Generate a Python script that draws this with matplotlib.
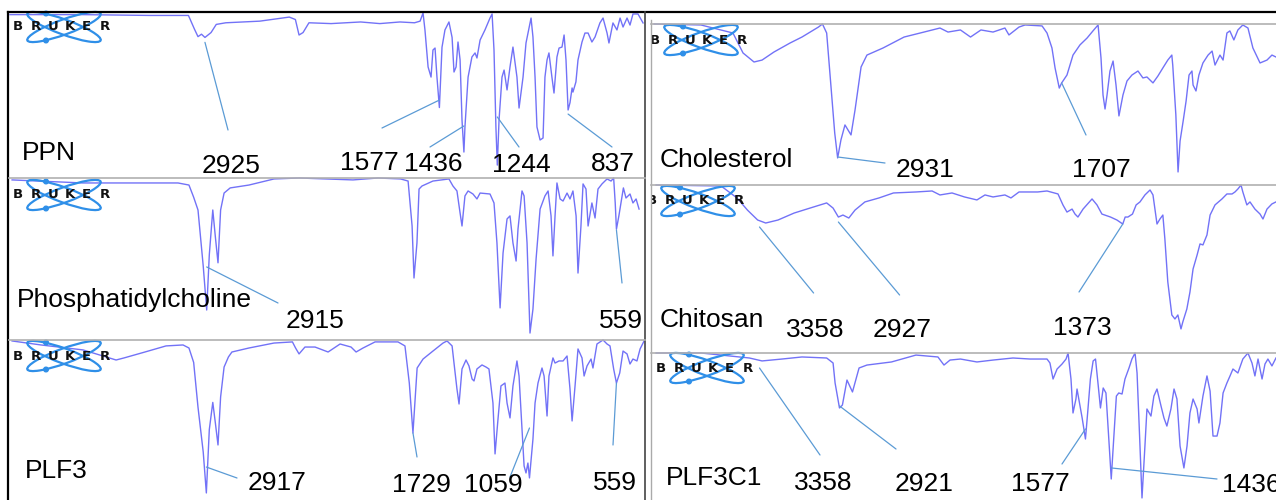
import matplotlib
matplotlib.use("Agg")
import matplotlib.pyplot as plt
import matplotlib.transforms as mtransforms
from matplotlib.lines import Line2D
from matplotlib.patches import Ellipse, Circle

W, H = 1276, 500

# FTIR spectra as (wavenumber cm-1, transmittance %) pairs
ppn = [(4046, 99), (3630, 99), (3240, 98.5), (3020, 98.5), (2985, 90), (2965, 85.5), (2945, 87),
       (2925, 85), (2890, 88), (2860, 93), (2805, 94), (2610, 95), (2440, 97.5), (2405, 96),
       (2384, 86.5), (2361, 88), (2327, 94), (2200, 93.5), (2030, 94.5), (1920, 93.5), (1804, 94.5),
       (1720, 94), (1688, 95), (1671, 100), (1660, 89.6), (1642, 66.9), (1625, 60.7), (1614, 77.3),
       (1602, 78.5), (1591, 60.7), (1577, 42), (1562, 79), (1545, 89.6), (1522, 94.5), (1504, 85),
       (1493, 63.8), (1481, 66.9), (1470, 82.2), (1458, 71.2), (1447, 34.4), (1436, 14.7),
       (1430, 30.1), (1412, 60.7), (1390, 73), (1372, 75.5), (1361, 72.4), (1343, 83.4),
       (1315, 89.6), (1286, 96.9), (1274, 99.4), (1263, 77.3), (1252, 30), (1244, 6.7), (1234, 34.4),
       (1217, 60.7), (1205, 65), (1188, 52.8), (1171, 66.9), (1154, 79.1), (1131, 60.7), (1119, 41.7),
       (1096, 60.7), (1079, 81.6), (1050, 96.9), (1039, 85.3), (1027, 60.7), (1016, 30.1),
       (998, 22.1), (981, 23.3), (970, 60.7), (958, 71.2), (947, 75.5), (930, 60.7), (918, 50.9),
       (901, 73), (889, 78.5), (872, 79.1), (860, 86.5), (849, 71.2), (837, 40.5), (826, 45),
       (814, 54), (809, 51.5), (792, 57.7), (780, 71.2), (757, 82.2), (740, 87.7), (722, 87.7),
       (700, 82.2), (682, 85.3), (654, 93.9), (636, 96.9), (613, 87.7), (602, 81.6), (579, 93.9),
       (556, 89.6), (538, 96.9), (521, 91.4), (498, 96.9), (481, 92.6), (464, 99.4), (435, 99.4),
       (406, 93.9)]

phosphatidylcholine = [
    (4034, 98.8), (3626, 96.9), (3270, 96.9), (3080, 96.9), (3017, 95.6), (2990, 88), (2965, 80),
    (2935, 45), (2915, 17.5), (2900, 52), (2880, 80), (2865, 63), (2850, 47), (2835, 80),
    (2815, 90.6), (2780, 93.8), (2672, 95.6), (2528, 99.4), (2384, 100), (2074, 98.8), (1930, 100),
    (1800, 99.4), (1757, 98.1), (1734, 70), (1723, 37.5), (1706, 59.4), (1694, 93.1), (1677, 95),
    (1614, 98.1), (1522, 99.4), (1499, 95), (1476, 91.9), (1458, 78.1), (1447, 70), (1430, 88.8),
    (1412, 91.9), (1384, 90), (1361, 86.9), (1343, 90.6), (1286, 90), (1263, 84.4), (1246, 59.4),
    (1228, 18.8), (1211, 53.1), (1188, 74.4), (1171, 76.3), (1154, 59.4), (1136, 48.1),
    (1125, 68.1), (1102, 91.9), (1090, 88.8), (1073, 59.4), (1056, 3.1), (1039, 18.1),
    (1021, 49.4), (998, 80.6), (970, 88.8), (952, 91.9), (935, 76.3), (924, 51.3), (912, 76.3),
    (901, 96.9), (883, 86.9), (866, 85.6), (843, 90.6), (826, 86.9), (809, 91.9), (791, 76.3),
    (780, 40.6), (763, 70), (751, 96.3), (734, 93.1), (722, 70), (700, 84.4), (682, 75),
    (665, 93.1), (642, 96.3), (613, 99.4), (590, 98.1), (575, 100), (566, 84.4), (559, 68),
    (545, 76.3), (519, 93.8), (504, 87.5), (481, 90), (464, 84.4), (446, 86.9), (429, 80.6)]

plf3 = [(4034, 99.4), (3868, 96.9), (3626, 93.8), (3436, 87.5), (3390, 88.8), (3270, 92.5),
        (3149, 96.3), (3051, 96.9), (3017, 95), (2990, 86), (2965, 58), (2935, 30), (2917, 4.4),
        (2900, 44), (2880, 61), (2865, 48), (2850, 34.4), (2835, 64.4), (2815, 83.1), (2790, 89.4),
        (2770, 92.5), (2672, 95), (2528, 98.1), (2422, 98.8), (2404, 95), (2384, 91.3), (2350, 95.6),
        (2292, 95.6), (2217, 92.5), (2148, 97.5), (2085, 95.6), (2056, 92.5), (2016, 95),
        (1947, 98.8), (1815, 98.8), (1775, 96.3), (1750, 73.1), (1729, 41.9), (1718, 60.6),
        (1705, 82.5), (1671, 88.1), (1614, 93.1), (1556, 98.1), (1533, 99.4), (1504, 96.3),
        (1493, 85.6), (1476, 69.4), (1464, 60), (1447, 81.9), (1424, 87.5), (1407, 83.8),
        (1389, 75.6), (1378, 74.4), (1361, 81.9), (1332, 84.4), (1309, 83.1), (1292, 81.9),
        (1269, 60.6), (1257, 28.8), (1240, 50.6), (1223, 71.3), (1200, 73.1), (1188, 60.6),
        (1171, 51.3), (1154, 71.3), (1131, 86.9), (1119, 77.5), (1102, 44.4), (1090, 21.3),
        (1079, 16.9), (1068, 23.1), (1059, 13.8), (1039, 38.1), (1027, 60.6), (1010, 73.1),
        (987, 82.5), (975, 77.5), (958, 52.5), (947, 77.5), (924, 88.8), (912, 85.6), (889, 86.9),
        (866, 86.9), (843, 90), (826, 69.4), (814, 49.4), (797, 71.3), (780, 94.4), (757, 88.8),
        (745, 77.5), (728, 83.8), (705, 88.1), (694, 82.5), (671, 97.5), (653, 98.8), (636, 100),
        (613, 97.5), (596, 96.3), (575, 81.9), (559, 73.1), (540, 79.4), (521, 93.1), (498, 91.3),
        (481, 85), (464, 88.1), (441, 86.9), (423, 94.4), (400, 99.4)]

cholesterol = [
    (3934, 100), (3678, 99.4), (3503, 94.4), (3448, 82), (3388, 76.4), (3344, 77.6), (3279, 82.6),
    (3191, 88.2), (3126, 91.9), (3036, 98.1), (3014, 100), (2991, 94.4), (2969, 63.4), (2947, 32.3),
    (2931, 16.8), (2913, 28), (2891, 37.3), (2858, 31.1), (2836, 46.6), (2803, 73.3), (2771, 80.7),
    (2683, 85.1), (2568, 91.9), (2459, 95), (2372, 97.5), (2328, 95), (2260, 96.3), (2205, 91.9),
    (2148, 96.3), (2082, 95), (2017, 97.5), (1995, 93.2), (1940, 98.1), (1907, 99.4), (1814, 98.8),
    (1787, 94.4), (1760, 85.1), (1743, 72.7), (1720, 60.2), (1707, 63.4), (1678, 68.3),
    (1645, 80.7), (1607, 87), (1568, 91.3), (1536, 95.7), (1508, 99.4), (1492, 78.9), (1481, 55.9),
    (1470, 47.2), (1459, 55.9), (1443, 70.8), (1426, 77), (1410, 62.1), (1394, 42.9), (1372, 55.9),
    (1350, 64.6), (1323, 68.3), (1290, 70.8), (1263, 66.5), (1241, 67.1), (1208, 63.4),
    (1181, 67.7), (1154, 72.7), (1127, 77.6), (1105, 80.7), (1100, 74.5), (1083, 43.5), (1071, 8.1),
    (1060, 27.3), (1043, 39.8), (1027, 52.2), (1011, 68.3), (995, 70.8), (989, 62.1), (973, 58.4),
    (957, 68.3), (935, 75.8), (907, 80.7), (885, 83.2), (869, 74.5), (842, 80.7), (825, 77.6),
    (804, 94.4), (788, 95.7), (766, 90.1), (744, 96.3), (717, 99.4), (689, 97.5), (662, 85.1),
    (623, 75.8), (585, 77.6), (558, 80.7), (536, 79.5)]

chitosan = [
    (3923, 100), (3568, 99.4), (3481, 92.2), (3424, 84.9), (3368, 78.9), (3324, 77.1), (3257, 78.9),
    (3169, 83.1), (3082, 86.1), (2991, 89.2), (2956, 86.1), (2927, 80.7), (2902, 81.9), (2870, 80.1),
    (2836, 84.9), (2782, 89.8), (2705, 92.2), (2626, 95.2), (2503, 95.8), (2415, 96.4), (2372, 94),
    (2306, 95.2), (2238, 92.8), (2170, 91), (2126, 94), (2082, 92.8), (2017, 94), (1984, 92.2),
    (1940, 95.8), (1838, 95.8), (1787, 96.4), (1727, 94.6), (1700, 88), (1678, 83.7), (1650, 85.5),
    (1634, 82.5), (1618, 80.7), (1590, 85.5), (1541, 91.6), (1514, 88), (1487, 82.5), (1440, 80.7),
    (1405, 78.9), (1373, 76.5), (1360, 80.7), (1345, 80.7), (1320, 82.5), (1300, 88), (1279, 89.8),
    (1252, 94), (1224, 97), (1208, 94), (1186, 76.5), (1170, 79.5), (1154, 81.9), (1143, 67.5),
    (1127, 41.6), (1105, 21.7), (1088, 19.3), (1072, 21.7), (1055, 13.3), (1045, 17.5),
    (1023, 25.3), (1006, 35.5), (989, 49.4), (967, 57.8), (951, 64.5), (935, 63.9), (913, 69.9),
    (896, 81.9), (869, 88), (831, 91.6), (804, 94.6), (776, 94.6), (760, 95.8), (744, 97.6),
    (727, 100), (717, 95.8), (695, 88), (678, 89.8), (651, 85.5), (623, 82.5), (607, 79.5),
    (585, 85.5), (558, 88.6), (536, 89.8)]

plf3c1 = [
    (3923, 100), (3678, 100), (3413, 96.6), (3344, 94.6), (3235, 95.9), (3126, 97.3), (2991, 96.6),
    (2956, 93.2), (2945, 79.6), (2921, 62.6), (2905, 64.6), (2880, 81.6), (2850, 73.5),
    (2814, 89.8), (2771, 91.8), (2637, 93.9), (2503, 98.6), (2383, 97.3), (2350, 91.8),
    (2317, 95.2), (2260, 95.9), (2170, 93.9), (2082, 95.2), (1973, 96.6), (1880, 95.9),
    (1787, 95.9), (1771, 93.2), (1754, 82.3), (1732, 89.1), (1705, 92.5), (1683, 95.9), (1672, 100),
    (1656, 82.3), (1645, 59.2), (1629, 68.7), (1623, 75.5), (1595, 55.8), (1577, 41.5),
    (1565, 59.2), (1550, 82.3), (1535, 94.6), (1522, 95.9), (1507, 77.6), (1495, 62.6),
    (1480, 76.2), (1465, 72.8), (1447, 36.7), (1436, 14.3), (1425, 36.7), (1408, 70.7),
    (1395, 72.8), (1377, 72.1), (1361, 82.3), (1339, 89.8), (1323, 95.9), (1306, 100), (1295, 86.4),
    (1279, 36.7), (1268, 1.4), (1252, 36.7), (1241, 61.9), (1219, 57.1), (1203, 70.7), (1186, 75.5),
    (1164, 63.9), (1148, 55.8), (1132, 50.3), (1110, 61.9), (1093, 75.5), (1077, 68.7), (1060, 36.7),
    (1039, 21.8), (1022, 36.7), (1006, 59.2), (989, 68.7), (967, 61.9), (957, 52.4), (935, 70.7),
    (913, 84.4), (896, 74.1), (880, 43.5), (858, 43.5), (842, 52.4), (825, 72.8), (804, 79.6),
    (787, 84.4), (771, 89.1), (744, 86.4), (717, 95.9), (689, 100), (667, 93.2), (651, 84.4),
    (634, 95.9), (612, 82.3), (596, 92.5), (580, 95.9), (558, 91.2), (536, 96.6)]

# labelled band positions (cm-1)
ppn_peaks = [2925, 1577, 1436, 1244, 837]
pc_peaks = [2915, 559]
plf3_peaks = [2917, 1729, 1059, 559]
chol_peaks = [2931, 1707]
chitosan_peaks = [3358, 2927, 1373]
plf3c1_peaks = [3358, 2921, 1577, 1436]

LINE = "#7272f7"
LEADER = "#5b9bd5"
FONT = ["Liberation Sans", "DejaVu Sans"]
FS = 19

fig = plt.figure(figsize=(W / 100, H / 100), dpi=100)
fig.patch.set_facecolor("white")
# image-pixel coordinates, origin top-left
pix = mtransforms.Affine2D().scale(1 / W, -1 / H).translate(0, 1) + fig.transFigure


def draw_logo(ax, left, cy):
    for i, ch in enumerate("BRUKER"):
        ax.text(left + 1 + i * 17.3, cy, ch, transform=pix, fontsize=9.5, fontweight="heavy",
                family="DejaVu Sans", ha="left", va="center", color="#111111", clip_on=True,
                zorder=4)
    cx = left + 52
    for ang in (20, -20):
        ax.add_patch(Ellipse((cx, cy), 78, 15, angle=ang, transform=pix, fill=False,
                             edgecolor="#2f8fe8", lw=1.6, zorder=3, clip_on=False))
    for dy in (-13.5, 13.5):
        ax.add_patch(Circle((cx - 18, cy + dy), 2.3, transform=pix, color="#2f8fe8",
                            zorder=3, clip_on=False))


def panel(box, xlim, data, name, name_pos, peaks, leaders, logo):
    x0, y0, x1, y1 = box
    ax = fig.add_axes([x0 / W, 1 - y1 / H, (x1 - x0) / W, (y1 - y0) / H])
    ax.set_xlim(*xlim)
    ax.set_ylim(0, 100)
    ax.set_axis_off()
    ax.patch.set_alpha(0)
    wn = [p[0] for p in data]
    t = [p[1] for p in data]
    ax.plot(wn, t, color=LINE, lw=1.0, clip_on=False, zorder=2)
    draw_logo(ax, *logo)
    ax.text(*name_pos, name, transform=pix, fontsize=FS, family=FONT, ha="left",
            va="baseline", zorder=5)
    for value, (t_start, text_pos, end) in zip(peaks, leaders):
        ax.annotate("", xy=(value, t_start), xytext=end, textcoords=pix,
                    arrowprops=dict(arrowstyle="-", color=LEADER, lw=0.9,
                                    shrinkA=0, shrinkB=0))
        ax.text(*text_pos, str(value), transform=pix, fontsize=FS, family=FONT,
                ha="left", va="baseline", zorder=5)
    return ax


LEFT_X = (4051.75, 394.75)
RIGHT_X = (3945.4, 535.8)

panel((9, 13, 645, 176), LEFT_X, ppn, "PPN", (22, 160), ppn_peaks,
      [(82, (202, 173), (228, 130)), (46.6, (340, 170), (382, 128)),
       (30.7, (404, 171), (430, 147)), (36.2, (492, 172), (519, 147)),
       (38, (591, 171), (612, 147))], (12, 27))
panel((9, 178, 645, 338), LEFT_X, phosphatidylcholine, "Phosphatidylcholine", (17, 307), pc_peaks,
      [(44.4, (286, 328), (278, 303)), (67.5, (599, 328), (622, 283))], (12, 195))
panel((9, 340, 645, 500), LEFT_X, plf3, "PLF3", (25, 478), plf3_peaks,
      [(20.6, (248, 490), (237, 478)), (41.9, (392, 492), (417, 457)),
       (45, (464, 492), (510, 477)), (73.1, (593, 490), (613, 445))], (12, 356))
panel((652, 24, 1276, 185), RIGHT_X, cholesterol, "Cholesterol", (660, 167), chol_peaks,
      [(17.4, (896, 177), (885, 163)), (63.4, (1072, 177), (1086, 135))], (649, 40))
panel((652, 185, 1276, 351), RIGHT_X, chitosan, "Chitosan", (660, 327), chitosan_peaks,
      [(74.7, (786, 337), (813.6, 293)), (77.7, (873, 337), (899.6, 295)),
       (76.5, (1053, 335), (1079, 292))], (646, 201))
panel((652, 353, 1276, 500), RIGHT_X, plf3c1, "PLF3C1", (666, 485), plf3c1_peaks,
      [(89.8, (794, 490), (820, 455)), (64, (895, 491), (896, 449)),
       (48.3, (1011, 491), (1062, 464)), (21.8, (1222, 492), (1217, 479))], (655, 368))

# panel frames
frames = [
    ((8, 1276), (12, 12), "black", 1.6),
    ((8, 8), (12, 500), "black", 1.6),
    ((645, 645), (12, 500), "#444444", 1.2),
    ((651, 651), (20, 500), "#aaaaaa", 1.0),
    ((9, 645), (178, 178), "#b0b0b0", 1.2),
    ((9, 645), (340, 340), "#b0b0b0", 1.2),
    ((651, 1276), (24, 24), "#b0b0b0", 1.2),
    ((651, 1276), (185, 185), "#b0b0b0", 1.2),
    ((651, 1276), (353, 353), "#b0b0b0", 1.2),
]
for xs, ys, c, lw in frames:
    fig.add_artist(Line2D(xs, ys, transform=pix, color=c, lw=lw, zorder=6))

fig.savefig("out.png", dpi=100)
